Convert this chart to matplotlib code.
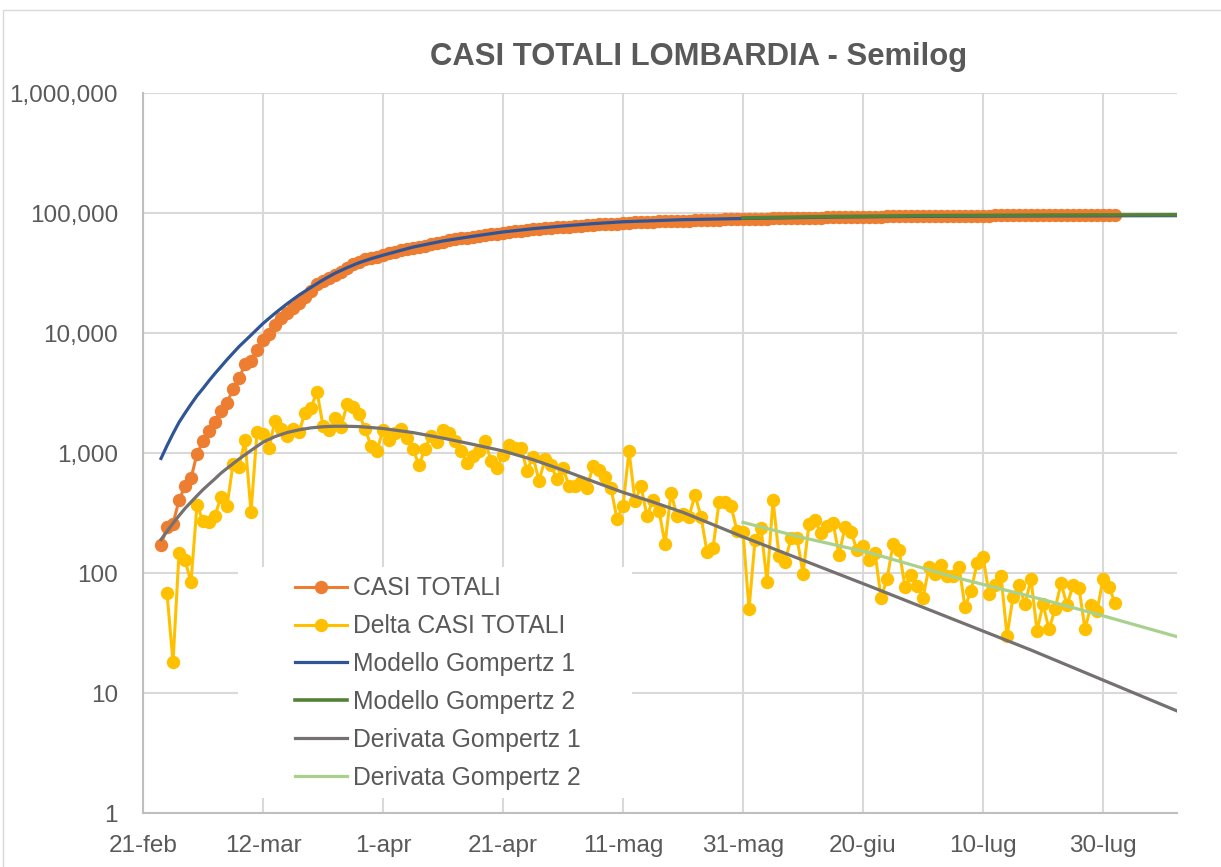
import matplotlib.pyplot as plt
import pandas as pd
import numpy as np
from matplotlib.patches import Rectangle
from matplotlib.ticker import FuncFormatter, NullLocator, FixedLocator

plt.rcParams['font.family'] = ['Liberation Sans', 'DejaVu Sans']

# giorno 0 = 21 febbraio 2020
inizio = pd.Timestamp('2020-02-21')
date_totali = pd.date_range('2020-02-24', '2020-08-01')
date_delta = pd.date_range('2020-02-25', '2020-08-01')
giorni_totali = (date_totali - inizio).days
giorni_delta = (date_delta - inizio).days

casi_totali = [
    172, 240, 258, 403, 531, 615, 984, 1254, 1520, 1820,
    2251, 2612, 3420, 4189, 5469, 5791, 7280, 8725, 9820, 11685,
    13272, 14649, 16220, 17713, 19884, 22264, 25515, 27206, 28761, 30703,
    32346, 34889, 37298, 39415, 41007, 42161, 43208, 44773, 46065, 47520,
    49118, 50455, 51534, 52325, 53414, 54802, 56048, 57592, 59052, 60314,
    61344, 62171, 63112, 64152, 65412, 66277, 67025, 67987, 69153, 70247,
    71357, 72070, 73001, 73589, 74474, 75268, 75872, 76617, 77151, 77677,
    78254, 78762, 79542, 80263, 80898, 81406, 81688, 82050, 83090, 83488,
    84014, 84313, 84719, 85049, 85224, 85690, 85989, 86299, 86594, 87041,
    87336, 87486, 87647, 88035, 88423, 88785, 89010, 89230, 89280, 89468,
    89704, 89788, 90194, 90333, 90457, 90652, 90847, 90946, 91200, 91476,
    91690, 91936, 92199, 92340, 92583, 92803, 92958, 93126, 93254, 93402,
    93464, 93553, 93726, 93881, 93958, 94054, 94132, 94194, 94307, 94405,
    94522, 94616, 94710, 94823, 94875, 94946, 95066, 95203, 95270, 95349,
    95443, 95473, 95536, 95615, 95670, 95759, 95792, 95847, 95881, 95931,
    96013, 96067, 96146, 96221, 96255, 96309, 96357, 96446, 96523, 96579,
]

delta_casi = [
    68, 18, 146, 128, 84, 369, 270, 266, 300, 431,
    361, 808, 769, 1280, 322, 1489, 1445, 1095, 1865, 1587,
    1377, 1571, 1493, 2171, 2380, 3251, 1691, 1555, 1942, 1643,
    2543, 2409, 2117, 1592, 1154, 1047, 1565, 1292, 1455, 1598,
    1337, 1079, 791, 1089, 1388, 1246, 1544, 1460, 1262, 1030,
    827, 941, 1040, 1260, 865, 748, 962, 1166, 1094, 1110,
    713, 931, 588, 885, 794, 604, 745, 534, 526, 577,
    508, 780, 721, 635, 508, 282, 362, 1040, 398, 526,
    299, 406, 330, 175, 466, 299, 310, 295, 447, 295,
    150, 161, 388, 388, 362, 225, 220, 50, 188, 236,
    84, 406, 139, 124, 195, 195, 99, 254, 276, 214,
    246, 263, 141, 243, 220, 155, 168, 128, 148, 62,
    89, 173, 155, 77, 96, 78, 62, 113, 98, 117,
    94, 94, 113, 52, 71, 120, 137, 67, 79, 94,
    30, 63, 79, 55, 89, 33, 55, 34, 50, 82,
    54, 79, 75, 34, 54, 48, 89, 77, 56,
]

# curve dei modelli (giorni dal 21-feb)
gomp1_giorni = [3, 4, 5, 6, 7, 8, 9, 10, 11, 12, 13, 14, 16, 18, 20, 22, 24,
                26, 28, 30, 32, 34, 36, 38, 40, 45, 50, 55, 60, 65, 70, 75, 80,
                90, 100, 115, 130, 150, 172.3]
gomp1 = [900, 1150, 1450, 1800, 2150, 2550, 3000, 3450, 4000, 4600, 5250, 6000,
         7700, 9600, 12000, 14600, 17500, 20700, 24000, 27700, 31500, 35000,
         38500, 41600, 44500, 52000, 58500, 64000, 69500, 74000, 78000, 81500,
         84500, 88000, 90000, 92500, 93800, 94600, 95000]

gomp2_giorni = [100, 115, 130, 150, 172.3]
gomp2 = [91000, 93500, 95000, 96000, 96600]

der1_giorni = [3, 4, 5, 6, 7, 8, 9, 10, 11, 12, 13, 14, 16, 18, 20, 22, 24, 26,
               28, 30, 32, 34, 36, 40, 45, 50, 55, 60, 65, 70, 75, 80, 85, 90,
               100, 121, 148, 172.3]
der1 = [190, 222, 260, 300, 345, 390, 440, 495, 550, 610, 680, 745, 890, 1050,
        1230, 1370, 1480, 1560, 1620, 1655, 1670, 1670, 1660, 1600, 1480, 1330,
        1180, 1040, 880, 720, 580, 470, 390, 320, 200, 78, 22.8, 7.1]

der2_giorni = [100, 110, 121, 135, 150, 160, 172.3]
der2 = [264, 197, 148, 93, 60, 44, 29.5]

etichette_x = ['21-feb', '12-mar', '1-apr', '21-apr', '11-mag', '31-mag',
               '20-giu', '10-lug', '30-lug']
tick_x = [0, 20, 40, 60, 80, 100, 120, 140, 160]

W, H = 1221, 867
fig = plt.figure(figsize=(W / 100, H / 100), dpi=100)
ax = fig.add_axes([143 / W, 1 - 813 / H, (1177 - 143) / W, (813 - 93) / H])

ax.plot(giorni_totali, casi_totali, '-o', color='#ED7D31', lw=2.2, ms=8.6,
        label='CASI TOTALI', zorder=3)
ax.plot(giorni_delta, delta_casi, '-o', color='#FFC000', lw=2.2, ms=8.6,
        label='Delta CASI TOTALI', zorder=4)
ax.plot(gomp1_giorni, gomp1, '-', color='#2F5597', lw=2.3,
        label='Modello Gompertz 1', zorder=5)
ax.plot(gomp2_giorni, gomp2, '-', color='#548235', lw=2.6,
        label='Modello Gompertz 2', zorder=6)
ax.plot(der1_giorni, der1, '-', color='#767171', lw=2.3,
        label='Derivata Gompertz 1', zorder=7)
ax.plot(der2_giorni, der2, '-', color='#A9D18E', lw=2.3,
        label='Derivata Gompertz 2', zorder=8)

ax.set_yscale('log')
ax.set_ylim(1, 1e6)
ax.set_xlim(0, 172.33)
ax.yaxis.set_major_locator(FixedLocator([1, 10, 100, 1000, 1e4, 1e5, 1e6]))
ax.yaxis.set_minor_locator(NullLocator())
ax.yaxis.set_major_formatter(FuncFormatter(lambda v, p: f'{v:,.0f}'))
ax.set_xticks(tick_x)
ax.set_xticklabels(etichette_x)

ax.grid(True, color='#d9d9d9', lw=1.5)
ax.set_axisbelow(True)
ax.tick_params(length=0, labelsize=17.5, colors='#595959')
ax.tick_params(axis='y', pad=18)
ax.tick_params(axis='x', pad=16)
for s in ['top', 'right']:
    ax.spines[s].set_visible(False)
for s in ['left', 'bottom']:
    ax.spines[s].set_color('#bfbfbf')
    ax.spines[s].set_linewidth(1.5)

# riquadro bianco della legenda sopra la griglia
ax.add_patch(Rectangle((238 / W, 1 - 798 / H), (632 - 238) / W, (798 - 567) / H,
                       transform=fig.transFigure, facecolor='white',
                       edgecolor='none', zorder=1))
leg = ax.legend(loc='upper left', bbox_to_anchor=(283 / W, 1 - 564 / H),
                bbox_transform=fig.transFigure, frameon=False, fontsize=17.8,
                borderpad=0, handlelength=2.1, handletextpad=0.25,
                labelspacing=0.56)
for t in leg.get_texts():
    t.set_color('#595959')

fig.text(699 / W, 1 - 57 / H, 'CASI TOTALI LOMBARDIA - Semilog', ha='center',
         va='center', fontsize=22.3, fontweight='bold', color='#595959')

fig.add_artist(Rectangle((3 / W, -0.05), 1.0, 1.05 - 10 / H, transform=fig.transFigure,
                         fill=False, edgecolor='#d9d9d9', lw=1))

fig.savefig('out.png', dpi=100)
